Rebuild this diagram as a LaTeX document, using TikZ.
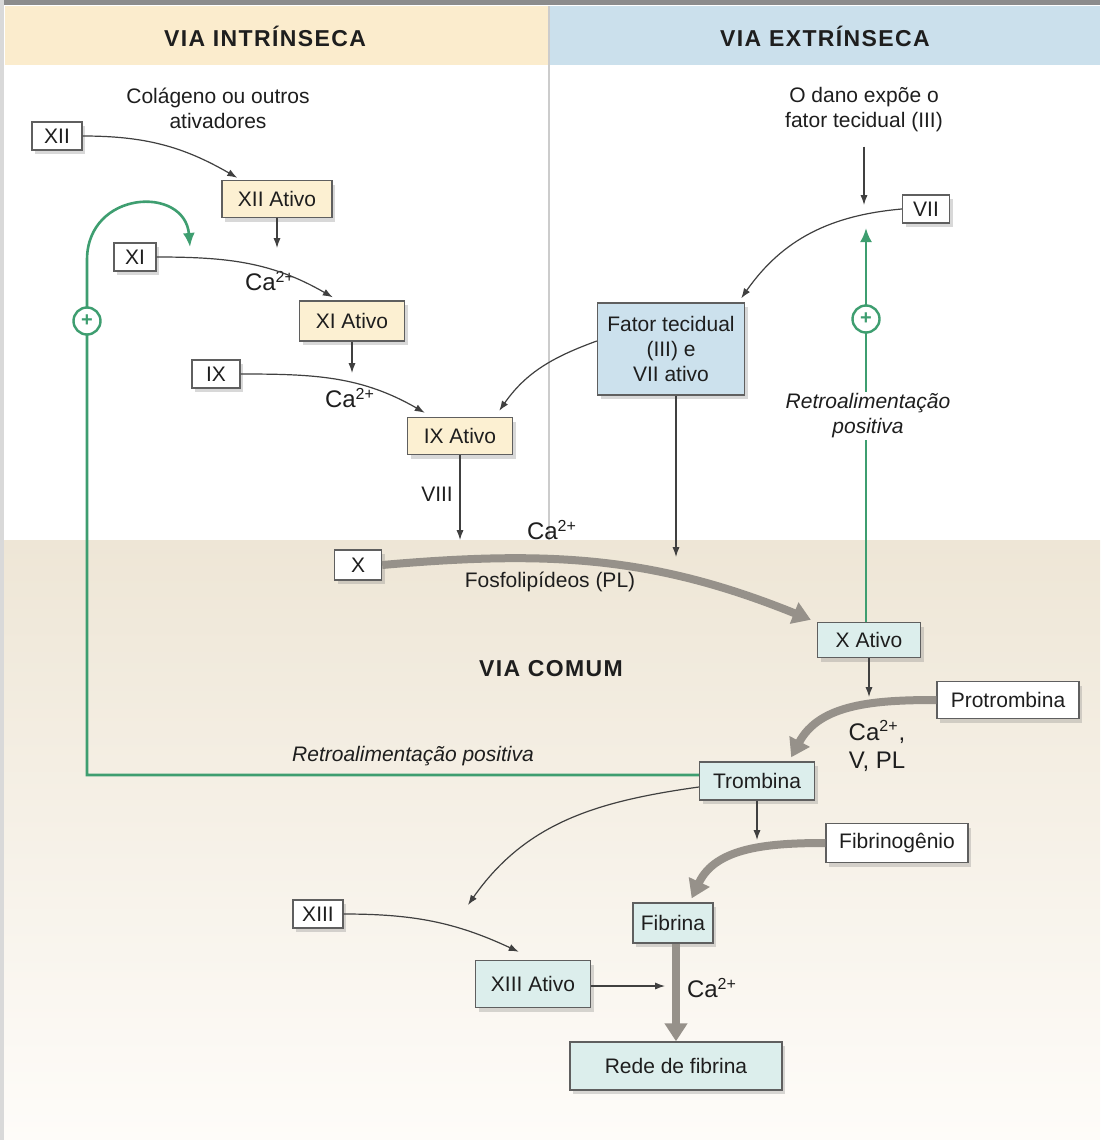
\documentclass[tikz,border=0pt]{standalone}
\usepackage{fontspec}
\setmainfont{Liberation Sans}
\usetikzlibrary{arrows.meta,shadows,positioning}
\definecolor{hdrintr}{RGB}{251,236,205}
\definecolor{hdrextr}{RGB}{203,224,236}
\definecolor{intrfill}{RGB}{252,240,210}
\definecolor{extrfill}{RGB}{204,225,237}
\definecolor{comfill}{RGB}{220,238,236}
\definecolor{comtop}{RGB}{238,230,214}
\definecolor{combot}{RGB}{254,252,249}
\definecolor{fbgreen}{RGB}{62,158,112}
\definecolor{edgegray}{RGB}{95,95,95}
\definecolor{thickgray}{RGB}{150,145,138}
\definecolor{txtdark}{RGB}{30,30,30}

\begin{document}
\begin{tikzpicture}[x=0.5pt,y=-0.5pt,
    font=\fontsize{10.5}{12.5}\selectfont,text=txtdark,
    fac/.style={draw=edgegray,fill=white,line width=0.7pt,inner sep=1pt,
                minimum height=14pt,
                drop shadow={shadow xshift=1.5pt,shadow yshift=-2pt,opacity=.3}},
    actI/.style={fac,fill=intrfill,minimum height=18.5pt},
    actE/.style={fac,fill=extrfill,align=center},
    actC/.style={fac,fill=comfill,minimum height=18.5pt},
    hdr/.style={font=\fontsize{11.5}{13}\selectfont\bfseries\addfontfeature{LetterSpace=6}},
    lbl/.style={align=center,inner sep=1pt},
    calbl/.style={inner sep=1pt,font=\fontsize{12}{14}\selectfont},
    fbtxt/.style={font=\fontsize{10.5}{12.5}\selectfont\itshape,align=center,inner sep=1pt},
    arr/.style={-{Latex[length=5pt,width=3.6pt]},line width=0.6pt,draw=black!75},
    bigarr/.style={-{Triangle[length=9pt,width=11pt]},line width=4pt,draw=thickgray},
    fb/.style={line width=1.3pt,draw=fbgreen},
    plusmark/.style={circle,draw=fbgreen,fill=white,line width=1.2pt,minimum size=13.5pt,
                     inner sep=0pt,text=fbgreen,font=\bfseries}
  ]
    \useasboundingbox (0,0) rectangle (1100,1140);
    % backgrounds
    \fill[white] (0,0) rectangle (1100,1140);
    \shade[top color=comtop,bottom color=combot] (0,540) rectangle (1100,1140);
    \fill[hdrintr] (5,6) rectangle (548,65);
    \fill[hdrextr] (550,6) rectangle (1100,65);
    \draw[black!20,line width=0.8pt] (549,6) -- (549,540);
    \fill[black!45] (0,0) rectangle (1100,5);
    \fill[black!15] (0,0) rectangle (4,1140);
    \node[hdr] (hint) at (265,36) {VIA INTRÍNSECA};
    \node[hdr] (hext) at (825,36) {VIA EXTRÍNSECA};
    \node[hdr] (hcom) at (551,669) {VIA COMUM};

    % via intrinseca
    \node[lbl] (colag) at (218,108) {Colágeno ou outros\\ativadores};
    \node[fac,minimum width=25pt] (xii) at (57,136) {XII};
    \node[actI,minimum width=55pt] (xiia) at (277,199) {XII Ativo};
    \node[fac,minimum width=21pt] (xi) at (135,257) {XI};
    \node[actI,minimum width=52.5pt,minimum height=20pt] (xia) at (352,321) {XI Ativo};
    \node[fac,minimum width=24pt] (ix) at (216,374) {IX};
    \node[actI,minimum width=52.5pt] (ixa) at (460,436) {IX Ativo};
    \node[calbl] (ca1) at (270,281) {Ca\textsuperscript{2+}};
    \node[calbl] (ca2) at (350,398) {Ca\textsuperscript{2+}};
    \node[lbl] (viii) at (437,494) {VIII};

    % via extrinseca
    \node[lbl] (dano) at (864,110) {O dano expõe o\\fator tecidual (III)};
    \node[fac,minimum width=23.5pt] (vii) at (926,209) {VII};
    \node[actE,minimum width=73.5pt,minimum height=46pt] (ftc) at (671,349) {Fator tecidual\\(III) e\\VII ativo};

    % via comum
    \node[fac,minimum width=23.5pt,minimum height=15pt] (x) at (358,565) {X};
    \node[calbl] (ca3) at (552,530) {Ca\textsuperscript{2+}};
    \node[lbl] (pl) at (550,582) {Fosfolipídeos (PL)};
    \node[actC,minimum width=51.5pt,minimum height=17.5pt] (xa) at (869,640) {X Ativo};
    \node[fac,minimum width=71pt,minimum height=18.5pt] (prot) at (1008,700) {Protrombina};
    \node[calbl,align=center] (cav) at (877,746) {Ca\textsuperscript{2+},\\V, PL};
    \node[actC,minimum width=57.5pt,minimum height=19pt] (trb) at (757,781) {Trombina};
    \node[fac,minimum width=71pt,minimum height=19.5pt] (fibg) at (897,843) {Fibrinogênio};
    \node[actC,minimum width=40pt,minimum height=20pt] (fib) at (673,923) {Fibrina};
    \node[fac,minimum width=25pt] (xiii) at (318,914) {XIII};
    \node[actC,minimum width=57.5pt,minimum height=23.5pt] (xiiia) at (533,984) {XIII Ativo};
    \node[calbl] (ca4) at (712,988) {Ca\textsuperscript{2+}};
    \node[actC,minimum width=106pt,minimum height=24pt] (rede) at (676,1066) {Rede de fibrina};

    % free ends
    \coordinate (xiiaend) at (277,248);
    \coordinate (xiaend) at (352,373);
    \coordinate (ixaend) at (460,540);
    \coordinate (danoend) at (864,205);
    \coordinate (ftcend) at (676,557);
    \coordinate (fbtop) at (866,228);
    \coordinate (xaend) at (869,697);
    \coordinate (trbend) at (757,840);
    \coordinate (xiiiaend) at (665,986);
    \coordinate (fbleft) at (190,247);
    \coordinate (trxiii) at (468,905);

    % connectors
    \draw[arr] (xii.east) to[out=0,in=150] ([xshift=8pt,yshift=1pt]xiia.north west);
    \draw[arr] (xiia.south) -- (xiiaend);
    \draw[arr] (xi.east) to[out=0,in=150] ([xshift=17pt,yshift=1.5pt]xia.north west);
    \draw[arr] (xia.south) -- (xiaend);
    \draw[arr] (ix.east) to[out=0,in=150] ([xshift=9pt,yshift=2pt]ixa.north west);
    \draw[arr] (ixa.south) -- (ixaend);
    \draw[arr] ([yshift=4pt]ftc.west) to[out=200,in=55] ([xshift=-7pt,yshift=3pt]ixa.north east);
    \draw[arr] ([yshift=-6pt]dano.south) -- (danoend);
    \draw[arr] (vii.west) to[out=185,in=55] ([xshift=-2pt,yshift=2pt]ftc.north east);
    \draw[arr] ([xshift=2.5pt]ftc.south) -- (ftcend);
    \draw[bigarr] (x.east) to[out=5,in=158] ([xshift=-3pt,yshift=1pt]xa.north west);
    \draw[arr] (xa.south) -- (xaend);
    \draw[bigarr] (prot.west) to[out=180,in=62] ([xshift=-12pt,yshift=2pt]trb.north east);
    \draw[arr] (trb.south) -- (trbend);
    \draw[bigarr] (fibg.west) to[out=180,in=65] ([xshift=-11pt,yshift=2pt]fib.north east);
    \draw[arr] ([yshift=-3pt]trb.west) to[out=188,in=55] (trxiii);
    \draw[arr] (xiii.east) to[out=0,in=155] ([xshift=22pt,yshift=4pt]xiiia.north west);
    \draw[arr] (xiiia.east |- xiiiaend) -- (xiiiaend);
    \draw[bigarr] ([xshift=1.5pt]fib.south) -- ([xshift=1.5pt]fib.south |- rede.north);

    % positive feedback
    \draw[fb,-{Latex[length=7pt,width=6pt]}] ([xshift=-1.5pt]xa.north) -- ([xshift=-1.5pt]xa.north |- fbtop);
    \node[fbtxt,fill=white] (fbr) at (868,416) {Retroalimentação\\positiva};
    \node[plusmark] (plr) at (866,319) {+};
    \draw[fb,-{Latex[length=7pt,width=6pt]}] ([yshift=3pt]trb.west) -- (87,775) -- (87,260)
      .. controls (87,190) and (185,185) .. (fbleft);
    \node[fbtxt] (fbl) at (413,756) {Retroalimentação positiva};
    \node[plusmark] (pll) at (87,321) {+};
  \end{tikzpicture}
\end{document}
